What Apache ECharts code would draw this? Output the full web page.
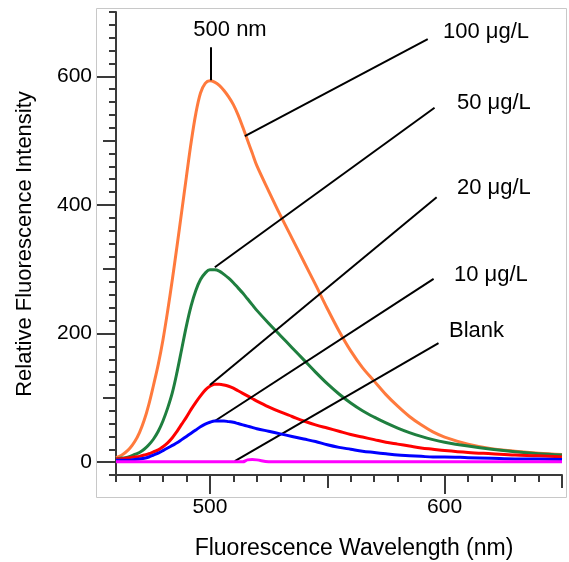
<!DOCTYPE html>
<html>
<head>
<meta charset="utf-8">
<script src="https://cdn.jsdelivr.net/npm/echarts@6/dist/echarts.min.js"></script>
<style>
html,body{margin:0;padding:0;background:#fff;}
#chart{width:569px;height:562px;}
</style>
</head>
<body>
<div id="chart"></div>
<script>
// ---- data ----
const wavelengths = [460,462,464,466,468,470,472,474,476,478,480,482,484,486,488,490,492,494,496,498,500,502,504,506,508,510,512,514,516,518,520,525,530,535,540,545,550,555,560,565,570,575,580,585,590,595,600,610,620,630,640,650];
const conc100 = [7,10,15,22,32,46,65,90,120,152,190,235,284,336,390,444,497,542,574,589,593,591,586,578,568,556,540,521,501,481,461,422,384,348,312,276,239,204,173,147,126,105,87,71,58,47,39,28,21,17,14,12];
const conc50  = [5,6,7,9,12,15,20,27,36,48,64,84,108,140,176,212,243,267,284,294,299,299,297,292,286,279,271,263,254,245,236,216,197,178,159,140,122,106,92,80,70,61,53,46,40,35,31,25,20,16,13,11];
const conc20  = [5,5,6,7,8,9,11,13,16,19,24,30,38,48,59,70,82,93,103,112,118,121,121,120,118,115,111,107,103,99,95,86,78,71,64,58,53,48,43,39,35,31,28,25,22,20,18,15,13,11,10,8];
const conc10  = [3,3,3,3,4,5,6,8,11,14,18,22,26,30,35,40,45,50,55,59,62,64,64,64,63,62,60,58,56,54,52,48,44,40,36,32,27,23,20,17,15,13,11,10,9,8,8,7,6,5,5,4];
const blank   = [0.5,0.5,0.5,0.5,0.5,0.5,0.5,0.5,0.5,0.5,0.5,0.5,0.5,0.5,0.5,0.5,0.5,0.5,0.5,0.5,0.5,0.5,0.5,0.5,0.5,0.5,0.5,0.5,3.5,4,3.5,0.5,0.5,0.5,0.5,0.5,0.5,0.5,0.5,0.5,0.5,0.5,0.5,0.5,0.5,0.5,0.5,0.5,0.5,0.5,0.5,0.5];
const seriesNames = ['100 μg/L','50 μg/L','20 μg/L','10 μg/L','Blank'];
const xMajorTicks = [500,600];
const xMediumTicks = [550,650];
const yMajorTicks = [0,200,400,600];
const yMediumTicks = [100,300,500];
const peakLabel = '500 nm';

// ---- build ----
const xMinor = []; for (let v = 460; v <= 650; v += 10) xMinor.push(v);
const yMinor = []; for (let v = -20; v <= 700; v += 20) yMinor.push(v);
const pairs = arr => wavelengths.map((w,i)=>[w, arr[i]]);

const axisColor = '#3a3a3a';
const FONT = 'Liberation Sans, Arial, sans-serif';

function xAx(ticks, len, main) {
  return {
    type:'value', min:460, max:650, position:'bottom',
    axisLine:{show:!!main, onZero:false, lineStyle:{color:axisColor,width:2}},
    axisTick:{show:true, customValues:ticks, length:len, lineStyle:{color:axisColor,width:2}},
    axisLabel:{show:!!main, customValues:xMajorTicks, margin:22, color:'#000', fontSize:21, fontFamily:FONT},
    splitLine:{show:false}
  };
}
function yAx(ticks, len, main) {
  return {
    type:'value', min:-20, max:700, position:'left',
    axisLine:{show:!!main, onZero:false, lineStyle:{color:axisColor,width:2}},
    axisTick:{show:true, customValues:ticks, length:len, lineStyle:{color:axisColor,width:2}},
    axisLabel:{show:!!main, customValues:yMajorTicks, margin:24, color:'#000', fontSize:21, fontFamily:FONT},
    splitLine:{show:false}
  };
}

const colors = ['#ff7a3d','#1f7f3f','#ff0000','#0000ff','#ff00ff'];
const datasets = [conc100, conc50, conc20, conc10, blank];

const series = datasets.map((d,i)=>({
  name: seriesNames[i], type:'line', data: pairs(d), showSymbol:false, smooth:0.35,
  lineStyle:{color:colors[i], width:3}, itemStyle:{color:colors[i]},
  xAxisIndex:0, yAxisIndex:0, z: 2+i, animation:false
}));

// annotation leader lines (data coordinates)
const leaders = [
  [[500.4,645],[500.4,594]],
  [[514.9,507],[592.8,658]],
  [[502.1,303],[595.7,551]],
  [[500.0,120],[596.6,412]],
  [[502.1,64],[595.3,285]],
  [[510.6,1.6],[597.4,185]]
];
series.push({
  type:'line', data:[], xAxisIndex:0, yAxisIndex:0, z:10, animation:false,
  markLine:{
    silent:true, symbol:['none','none'], animation:false,
    label:{show:false},
    lineStyle:{color:'#000', width:2, type:'solid'},
    data: leaders.map(l=>[{coord:l[0]},{coord:l[1]}])
  }
});

const annFont = '22px ' + FONT;
const chart = echarts.init(document.getElementById('chart'));
chart.setOption({
  animation:false,
  backgroundColor:'#fff',
  grid:{left:116, top:12, right:7, bottom:87, containLabel:false},
  xAxis:[xAx(xMinor,7,true), xAx(xMediumTicks,13,false), xAx(xMajorTicks,19,false)],
  yAxis:[yAx(yMinor,7,true), yAx(yMediumTicks,13,false), yAx(yMajorTicks,19,false)],
  series: series,
  graphic:[
    {type:'rect', shape:{x:96.5,y:8.5,width:470,height:489}, style:{fill:'none', stroke:'#c8c8c8', lineWidth:1}, z:-10, silent:true},
    {type:'text', x:230, y:30, style:{text:peakLabel, font:annFont, fill:'#000', textAlign:'center', textVerticalAlign:'middle'}},
    {type:'text', x:443, y:32, style:{text:seriesNames[0], font:annFont, fill:'#000', textAlign:'left', textVerticalAlign:'middle'}},
    {type:'text', x:457, y:103, style:{text:seriesNames[1], font:annFont, fill:'#000', textAlign:'left', textVerticalAlign:'middle'}},
    {type:'text', x:457, y:188, style:{text:seriesNames[2], font:annFont, fill:'#000', textAlign:'left', textVerticalAlign:'middle'}},
    {type:'text', x:454, y:275, style:{text:seriesNames[3], font:annFont, fill:'#000', textAlign:'left', textVerticalAlign:'middle'}},
    {type:'text', x:449, y:331, style:{text:seriesNames[4], font:annFont, fill:'#000', textAlign:'left', textVerticalAlign:'middle'}},
    {type:'text', x:354, y:549, style:{text:'Fluorescence Wavelength (nm)', font:'23px '+FONT, fill:'#000', textAlign:'center', textVerticalAlign:'middle'}},
    {type:'text', x:25, y:244, rotation:Math.PI/2, style:{text:'Relative Fluorescence Intensity', font:'22px '+FONT, fill:'#000', textAlign:'center', textVerticalAlign:'middle'}}
  ]
});
</script>
</body>
</html>
